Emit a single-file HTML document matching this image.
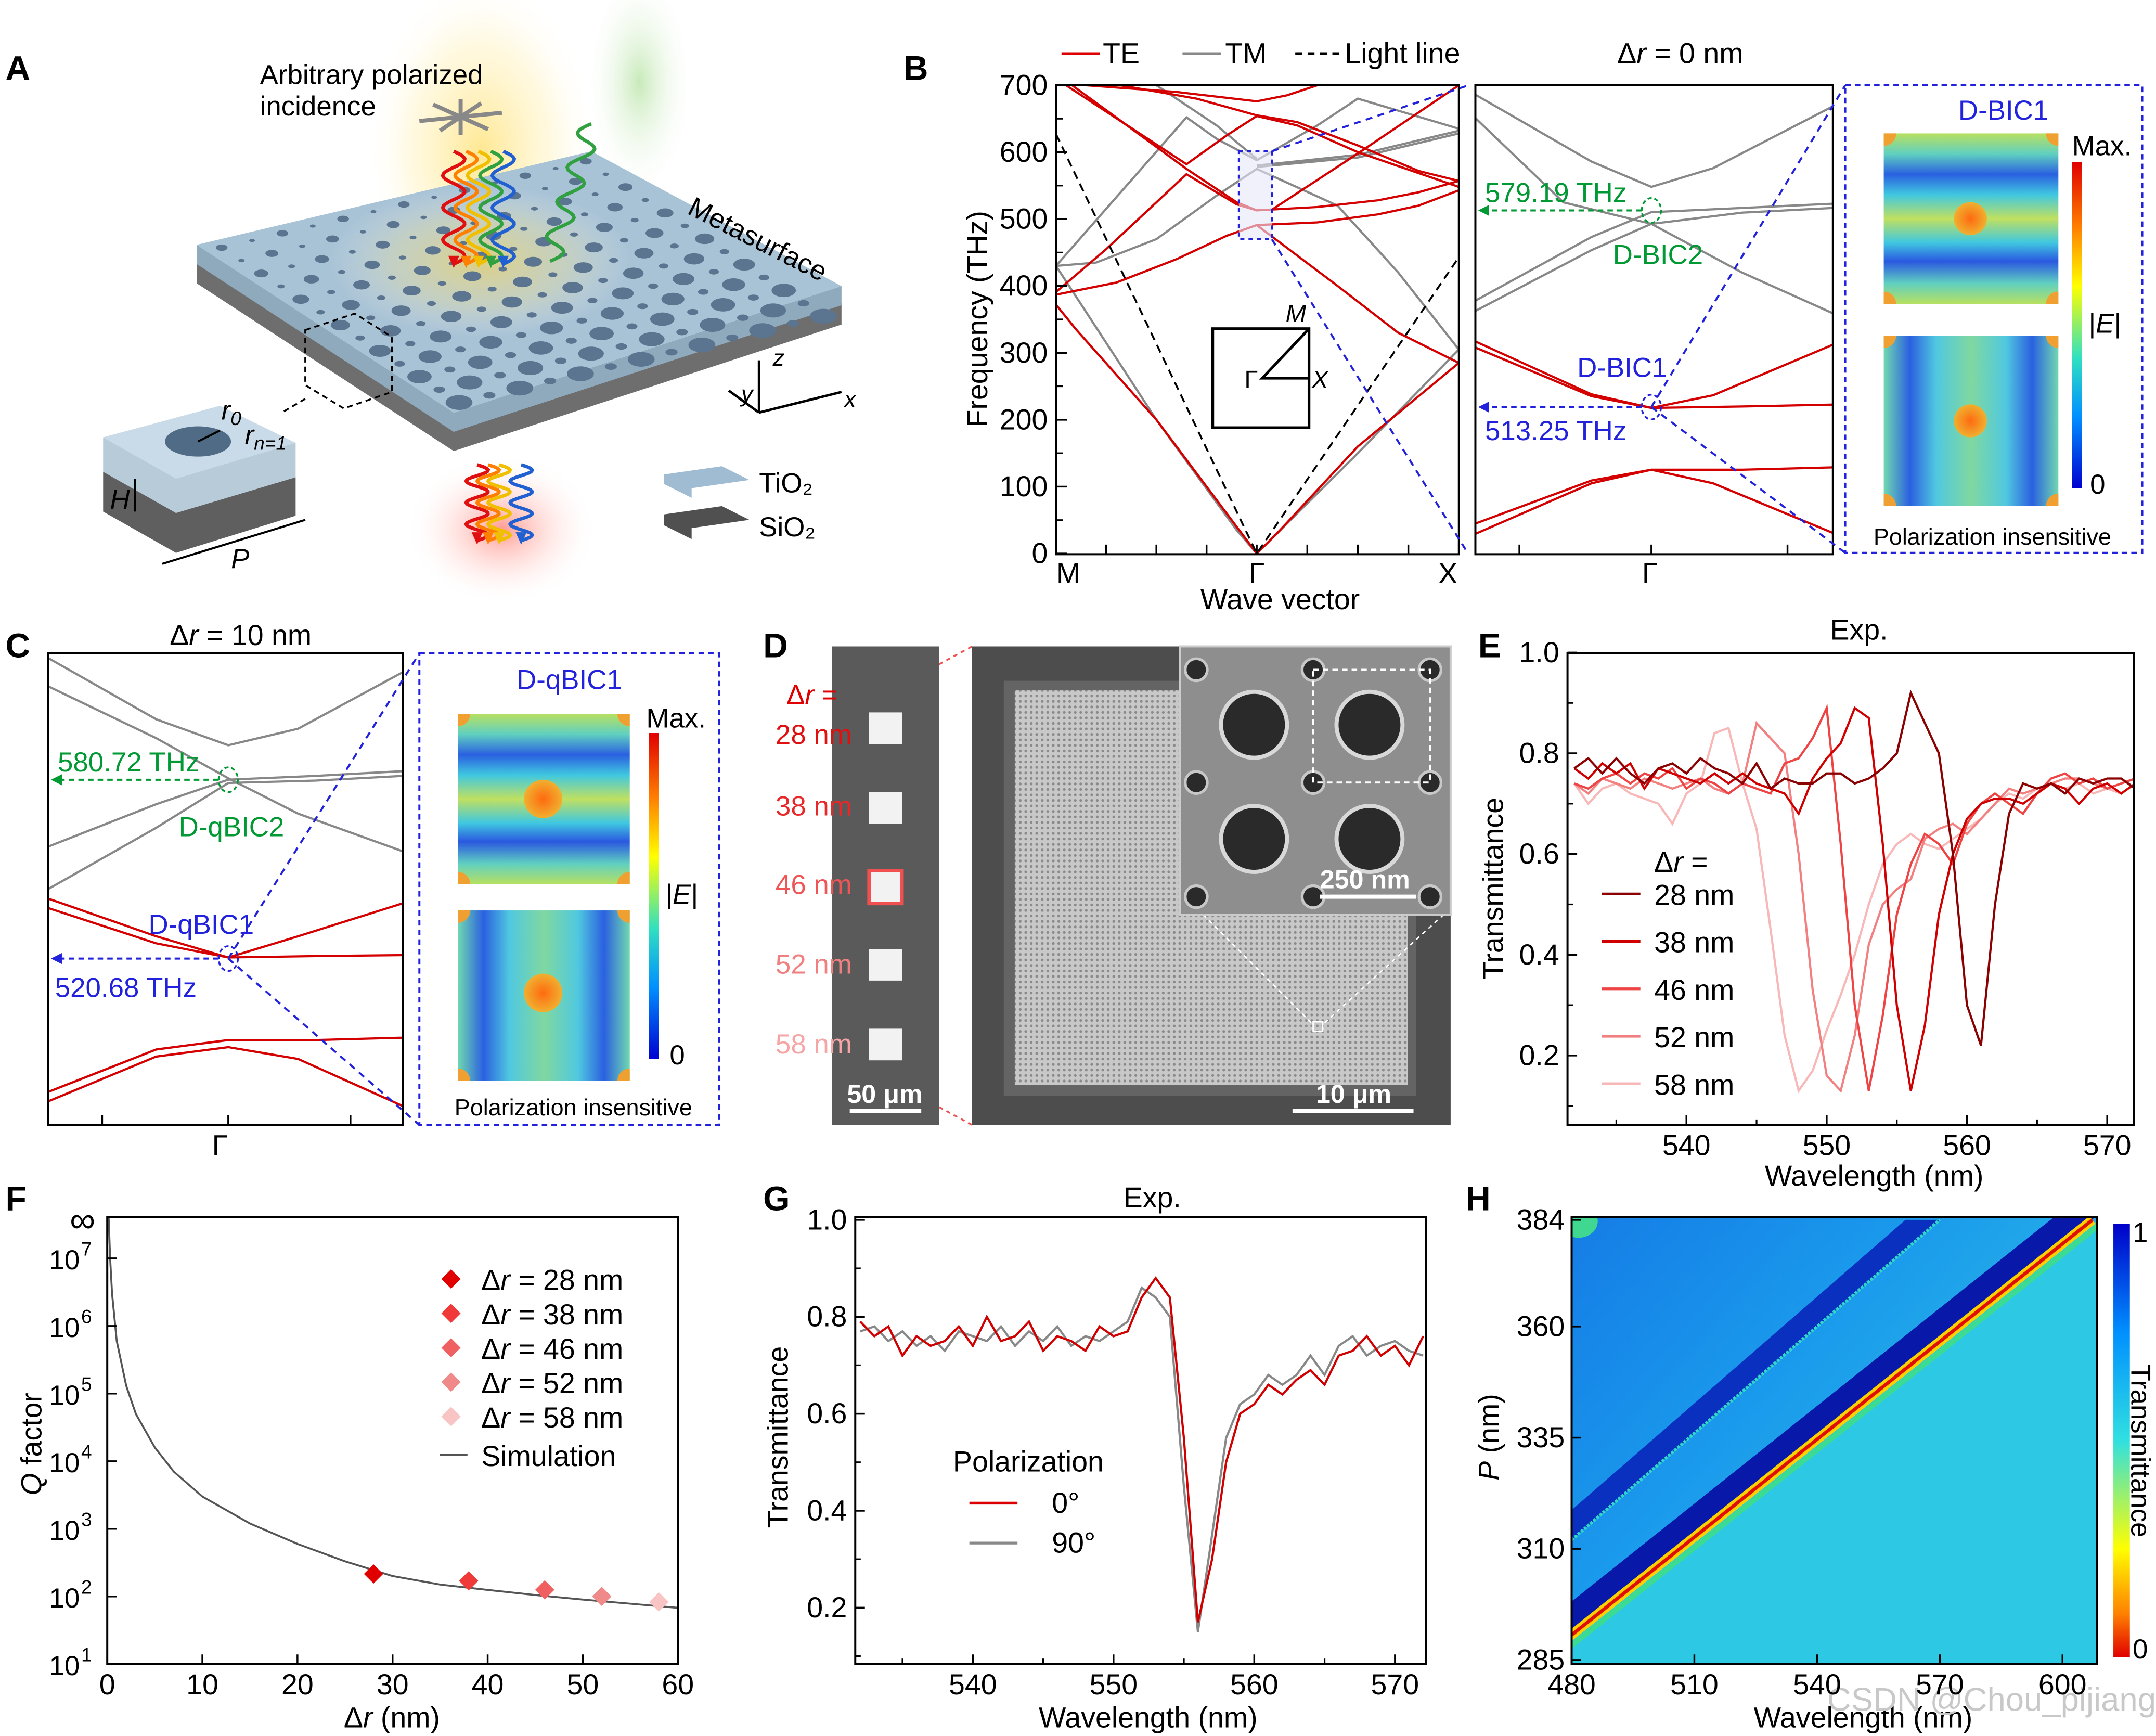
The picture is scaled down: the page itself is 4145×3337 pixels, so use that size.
<!DOCTYPE html>
<html><head><meta charset="utf-8">
<style>
html,body{margin:0;padding:0;background:#fff;overflow:hidden}
svg{display:block}
text{font-family:"Liberation Sans",Arial,sans-serif}
</style></head>
<body>
<svg id="fig" xmlns="http://www.w3.org/2000/svg" width="4145" height="3337" viewBox="0 0 1568 1262.3" preserveAspectRatio="none">
<defs>
<radialGradient id="gYellow" cx="0.5" cy="0.5" r="0.5"><stop offset="0" stop-color="#ffd84a" stop-opacity="0.6"/><stop offset="0.6" stop-color="#ffeb99" stop-opacity="0.3"/><stop offset="1" stop-color="#fff" stop-opacity="0"/></radialGradient>
<radialGradient id="gGreen" cx="0.5" cy="0.5" r="0.5"><stop offset="0" stop-color="#9ad880" stop-opacity="0.55"/><stop offset="1" stop-color="#fff" stop-opacity="0"/></radialGradient>
<radialGradient id="gRed" cx="0.5" cy="0.5" r="0.5"><stop offset="0" stop-color="#ff5a4a" stop-opacity="0.6"/><stop offset="1" stop-color="#fff" stop-opacity="0"/></radialGradient>
<linearGradient id="mapH" x1="0" y1="0" x2="0" y2="1">
<stop offset="0" stop-color="#b8e060"/><stop offset="0.12" stop-color="#60d0c0"/><stop offset="0.24" stop-color="#2a60e0"/><stop offset="0.36" stop-color="#40c8e0"/><stop offset="0.5" stop-color="#c0e060"/><stop offset="0.64" stop-color="#40c8e0"/><stop offset="0.75" stop-color="#2a58e0"/><stop offset="0.88" stop-color="#60d0c0"/><stop offset="1" stop-color="#b8e060"/></linearGradient>
<linearGradient id="mapV" x1="0" y1="0" x2="1" y2="0">
<stop offset="0" stop-color="#70d8b0"/><stop offset="0.15" stop-color="#2a60e0"/><stop offset="0.3" stop-color="#50c8e0"/><stop offset="0.5" stop-color="#80d8a0"/><stop offset="0.7" stop-color="#50c8e0"/><stop offset="0.85" stop-color="#2a60e0"/><stop offset="1" stop-color="#70d8b0"/></linearGradient>
<linearGradient id="cbar" x1="0" y1="0" x2="0" y2="1">
<stop offset="0" stop-color="#e00000"/><stop offset="0.2" stop-color="#ff8000"/><stop offset="0.38" stop-color="#ffff00"/><stop offset="0.6" stop-color="#30e0c0"/><stop offset="0.78" stop-color="#0090ff"/><stop offset="1" stop-color="#0000d0"/></linearGradient>
<linearGradient id="cbarH" x1="0" y1="0" x2="0" y2="1">
<stop offset="0" stop-color="#0000c8"/><stop offset="0.25" stop-color="#0090ff"/><stop offset="0.5" stop-color="#30e0e0"/><stop offset="0.75" stop-color="#ffff00"/><stop offset="0.9" stop-color="#ff8000"/><stop offset="1" stop-color="#e00000"/></linearGradient>
<radialGradient id="dot" cx="0.5" cy="0.5" r="0.5"><stop offset="0" stop-color="#ff6a10"/><stop offset="1" stop-color="#f0b030"/></radialGradient>
<linearGradient id="hbg" x1="0" y1="0" x2="1" y2="1"><stop offset="0" stop-color="#1060e0"/><stop offset="0.5" stop-color="#1a9aec"/><stop offset="1" stop-color="#38d4e0"/></linearGradient>
<clipPath id="clipH"><rect x="1143" y="885" width="382" height="325"/></clipPath>
<clipPath id="clipB"><rect x="768" y="62" width="293" height="341"/></clipPath>
<clipPath id="clipBR"><rect x="1073" y="62" width="260" height="341"/></clipPath>
<clipPath id="clipC"><rect x="35" y="475" width="258" height="343"/></clipPath>
<clipPath id="clipE"><rect x="1140" y="475" width="412" height="343"/></clipPath>
<clipPath id="clipG"><rect x="622" y="885" width="415" height="325"/></clipPath>
<pattern id="semdots" width="4" height="4" patternUnits="userSpaceOnUse"><rect width="4" height="4" fill="#c8c8c8"/><circle cx="2" cy="2" r="1" fill="#8a8a8a"/></pattern>
</defs>

<g font-weight="bold" font-size="25">
<text x="4" y="58">A</text>
<text x="657" y="58">B</text>
<text x="4" y="478">C</text>
<text x="555" y="478">D</text>
<text x="1075" y="478">E</text>
<text x="4" y="880">F</text>
<text x="555" y="880">G</text>
<text x="1066" y="880">H</text>
</g>

<!-- ========== Panel A illustration ========== -->
<g id="panelA">
<ellipse cx="350" cy="110" rx="85" ry="130" fill="url(#gYellow)"/>
<ellipse cx="465" cy="60" rx="40" ry="85" fill="url(#gGreen)"/>
<ellipse cx="365" cy="385" rx="70" ry="55" fill="url(#gRed)"/>
<polygon points="143,190 330,312 612,220 612,236 330,328 143,206" fill="#6e6e6e"/>
<polygon points="143,178 330,300 612,208 612,222 330,314 143,192" fill="#8fa9bd"/>
<polygon id="slabTop" points="143,178 430,110 612,208 330,300" fill="#a9c3d6"/>
<ellipse cx="350" cy="190" rx="110" ry="55" fill="url(#gYellow)"/>
<g id="holes"></g>
<text x="499" y="155" font-size="20" transform="rotate(27 499 155)">Metasurface</text>
<text x="189" y="61" font-size="20">Arbitrary polarized</text>
<text x="189" y="84" font-size="20">incidence</text>
<g stroke="#888" stroke-width="3">
<line x1="305" y1="88" x2="365" y2="82"/><line x1="315" y1="76" x2="355" y2="94"/><line x1="320" y1="95" x2="350" y2="75"/><line x1="335" y1="72" x2="335" y2="98"/>
</g>
<g id="waves" fill="none" stroke-width="2.5"></g>
<g>
<polygon points="75,343 128,373 215,347 215,375 128,402 75,372" fill="#5f5f5f"/>
<polygon points="75,318 128,348 215,322 215,347 128,373 75,343" fill="#b8cbd9"/>
<polygon points="75,318 160,295 215,322 128,348" fill="#c9dbe8"/>
<ellipse cx="144" cy="321" rx="24" ry="11" fill="#4f6b85"/>
<line x1="144" y1="321" x2="160" y2="313" stroke="#000" stroke-width="1.5"/>
<text x="161" y="305" font-size="20" font-style="italic">r<tspan font-size="14" dy="4">0</tspan></text>
<text x="178" y="323" font-size="20" font-style="italic">r<tspan font-size="14" dy="4">n=1</tspan></text>
<text x="80" y="370" font-size="20" font-style="italic">H</text>
<line x1="98" y1="348" x2="98" y2="372" stroke="#000" stroke-width="1.5"/>
<line x1="118" y1="410" x2="222" y2="378" stroke="#000" stroke-width="1.5"/>
<text x="168" y="413" font-size="20" font-style="italic">P</text>
</g>
<g fill="none" stroke="#000" stroke-dasharray="4 3" stroke-width="1.3">
<polygon points="222,240 258,228 285,245 285,285 250,297 222,280"/>
<line x1="222" y1="290" x2="205" y2="300"/>
</g>
<g stroke="#000" stroke-width="1.8" fill="none">
<line x1="552" y1="300" x2="552" y2="262"/><line x1="552" y1="300" x2="612" y2="285"/><line x1="552" y1="300" x2="530" y2="284"/>
</g>
<text x="562" y="266" font-size="17" font-style="italic">z</text>
<text x="614" y="296" font-size="17" font-style="italic">x</text>
<text x="539" y="292" font-size="17" font-style="italic">y</text>
<polygon points="483,345 525,339 545,349 503,355 503,362 483,352" fill="#9fbcd2"/>
<polygon points="483,374 525,368 545,378 503,384 503,392 483,382" fill="#505050"/>
<text x="552" y="358" font-size="20">TiO₂</text>
<text x="552" y="390" font-size="20">SiO₂</text>
</g>

<!-- ========== Panel B ========== -->
<g font-size="21">
<line x1="772" y1="39" x2="800" y2="39" stroke="#d00" stroke-width="2"/><text x="802" y="46">TE</text>
<line x1="860" y1="39" x2="888" y2="39" stroke="#888" stroke-width="2"/><text x="891" y="46">TM</text>
<line x1="942" y1="39" x2="975" y2="39" stroke="#000" stroke-width="2" stroke-dasharray="5 4"/><text x="978" y="46">Light line</text>
<text x="1222" y="46" text-anchor="middle">Δ<tspan font-style="italic">r</tspan> = 0 nm</text>
</g>
<g id="bandB"></g>
<rect x="768" y="62" width="293" height="341" fill="none" stroke="#000" stroke-width="1.5"/>
<rect x="1073" y="62" width="260" height="341" fill="none" stroke="#000" stroke-width="1.5"/>
<text x="718" y="232" font-size="21" text-anchor="middle" transform="rotate(-90 718 232)">Frequency (THz)</text>
<text x="931" y="443" font-size="21" text-anchor="middle">Wave vector</text>
<g font-size="21" text-anchor="middle">
<text x="777" y="424">M</text><text x="914" y="424">Γ</text><text x="1053" y="424">X</text><text x="1200" y="424">Γ</text></g>
<g>
<rect x="882" y="239" width="70" height="72" fill="none" stroke="#000" stroke-width="2"/>
<polyline points="952,239 918,275 952,275" fill="none" stroke="#000" stroke-width="2"/>
<text x="905" y="282" font-size="18">Γ</text><text x="954" y="282" font-size="18" font-style="italic">X</text><text x="935" y="234" font-size="18" font-style="italic">M</text>
</g>
<rect x="901" y="110" width="24" height="64" fill="#e8e8f8" fill-opacity="0.6" stroke="#22d" stroke-width="1.5" stroke-dasharray="3 3"/>
<g stroke="#22d" stroke-width="1.5" stroke-dasharray="5 4" fill="none">
<line x1="925" y1="110" x2="1068" y2="62"/><line x1="925" y1="174" x2="1068" y2="403"/>
<line x1="1201" y1="296" x2="1342" y2="62"/><line x1="1201" y1="296" x2="1342" y2="402"/>
</g>
<g>
<ellipse cx="1201" cy="153" rx="7" ry="9" fill="none" stroke="#093" stroke-width="1.3" stroke-dasharray="3 2"/>
<line x1="1194" y1="153" x2="1080" y2="153" stroke="#093" stroke-width="1.5" stroke-dasharray="4 3"/>
<polygon points="1075,153 1083,149 1083,157" fill="#093"/>
<text x="1080" y="147" font-size="20" fill="#093">579.19 THz</text>
<text x="1173" y="192" font-size="20" fill="#093">D-BIC2</text>
<ellipse cx="1201" cy="296" rx="7" ry="9" fill="none" stroke="#22d" stroke-width="1.3" stroke-dasharray="3 2"/>
<line x1="1194" y1="296" x2="1080" y2="296" stroke="#22d" stroke-width="1.5" stroke-dasharray="4 3"/>
<polygon points="1075,296 1083,292 1083,300" fill="#22d"/>
<text x="1080" y="320" font-size="20" fill="#22d">513.25 THz</text>
<text x="1147" y="274" font-size="20" fill="#22d">D-BIC1</text>
</g>
<g>
<rect x="1342" y="62" width="216" height="340" fill="none" stroke="#22d" stroke-width="1.5" stroke-dasharray="4 3"/>
<text x="1457" y="87" font-size="20" fill="#22d" text-anchor="middle">D-BIC1</text>
<rect x="1370" y="97" width="127" height="124" fill="url(#mapH)"/>
<circle cx="1433" cy="159" r="12" fill="url(#dot)"/>
<rect x="1370" y="244" width="127" height="124" fill="url(#mapV)"/>
<circle cx="1433" cy="306" r="12" fill="url(#dot)"/>
<g fill="#f0a030"><path d="M1370,97 h9 a9,9 0 0 1 -9,9z"/><path d="M1497,97 v9 a9,9 0 0 1 -9,-9z"/><path d="M1370,221 v-9 a9,9 0 0 1 9,9z"/><path d="M1497,221 h-9 a9,9 0 0 1 9,-9z"/>
<path d="M1370,244 h9 a9,9 0 0 1 -9,9z"/><path d="M1497,244 v9 a9,9 0 0 1 -9,-9z"/><path d="M1370,368 v-9 a9,9 0 0 1 9,9z"/><path d="M1497,368 h-9 a9,9 0 0 1 9,-9z"/></g>
<rect x="1507" y="118" width="7" height="237" fill="url(#cbar)"/>
<text x="1507" y="113" font-size="20">Max.</text>
<text x="1519" y="242" font-size="20">|<tspan font-style="italic">E</tspan>|</text>
<text x="1520" y="359" font-size="20">0</text>
<text x="1449" y="396" font-size="17" text-anchor="middle">Polarization insensitive</text>
</g>

<!-- ========== Panel C ========== -->
<text x="175" y="469" font-size="21" text-anchor="middle">Δ<tspan font-style="italic">r</tspan> = 10 nm</text>
<g id="bandC"></g>
<rect x="35" y="475" width="258" height="343" fill="none" stroke="#000" stroke-width="1.5"/>
<text x="160" y="840" font-size="21" text-anchor="middle">Γ</text>
<g>
<ellipse cx="166" cy="567" rx="7" ry="9" fill="none" stroke="#093" stroke-width="1.3" stroke-dasharray="3 2"/>
<line x1="159" y1="567" x2="42" y2="567" stroke="#093" stroke-width="1.5" stroke-dasharray="4 3"/>
<polygon points="37,567 45,563 45,571" fill="#093"/>
<text x="42" y="561" font-size="20" fill="#093">580.72 THz</text>
<text x="130" y="608" font-size="20" fill="#093">D-qBIC2</text>
<ellipse cx="166" cy="697" rx="7" ry="9" fill="none" stroke="#22d" stroke-width="1.3" stroke-dasharray="3 2"/>
<line x1="159" y1="697" x2="42" y2="697" stroke="#22d" stroke-width="1.5" stroke-dasharray="4 3"/>
<polygon points="37,697 45,693 45,701" fill="#22d"/>
<text x="40" y="725" font-size="20" fill="#22d">520.68 THz</text>
<text x="108" y="679" font-size="20" fill="#22d">D-qBIC1</text>
</g>
<g stroke="#22d" stroke-width="1.5" stroke-dasharray="5 4">
<line x1="166" y1="697" x2="305" y2="475"/><line x1="166" y1="697" x2="305" y2="818"/></g>
<g>
<rect x="305" y="475" width="218" height="343" fill="none" stroke="#22d" stroke-width="1.5" stroke-dasharray="4 3"/>
<text x="414" y="501" font-size="20" fill="#22d" text-anchor="middle">D-qBIC1</text>
<rect x="333" y="519" width="125" height="124" fill="url(#mapH)"/>
<circle cx="395" cy="581" r="14" fill="url(#dot)"/>
<rect x="333" y="662" width="125" height="124" fill="url(#mapV)"/>
<circle cx="395" cy="722" r="14" fill="url(#dot)"/>
<g fill="#f0a030"><path d="M333,519 h9 a9,9 0 0 1 -9,9z"/><path d="M458,519 v9 a9,9 0 0 1 -9,-9z"/><path d="M333,643 v-9 a9,9 0 0 1 9,9z"/><path d="M458,643 h-9 a9,9 0 0 1 9,-9z"/>
<path d="M333,662 h9 a9,9 0 0 1 -9,9z"/><path d="M458,662 v9 a9,9 0 0 1 -9,-9z"/><path d="M333,786 v-9 a9,9 0 0 1 9,9z"/><path d="M458,786 h-9 a9,9 0 0 1 9,-9z"/></g>
<rect x="472" y="533" width="7" height="237" fill="url(#cbar)"/>
<text x="470" y="529" font-size="20">Max.</text>
<text x="484" y="657" font-size="20">|<tspan font-style="italic">E</tspan>|</text>
<text x="487" y="774" font-size="20">0</text>
<text x="417" y="811" font-size="17" text-anchor="middle">Polarization insensitive</text>
</g>

<!-- ========== Panel D ========== -->
<g>
<rect x="605" y="470" width="78" height="348" fill="#5a5a5a"/>
<g fill="#f2f2f2">
<rect x="632" y="518" width="24" height="23"/><rect x="632" y="576" width="24" height="23"/><rect x="632" y="633" width="24" height="24" stroke="#f05050" stroke-width="2.5"/><rect x="632" y="690" width="24" height="23"/><rect x="632" y="748" width="24" height="23"/></g>
<g font-size="20">
<text x="572" y="512" fill="#e00000">Δ<tspan font-style="italic">r</tspan> =</text>
<text x="564" y="541" fill="#e01010">28 nm</text>
<text x="564" y="593" fill="#e82828">38 nm</text>
<text x="564" y="650" fill="#f05555">46 nm</text>
<text x="564" y="708" fill="#f08080">52 nm</text>
<text x="564" y="766" fill="#f5a5a5">58 nm</text></g>
<line x1="618" y1="808" x2="670" y2="808" stroke="#fff" stroke-width="3"/>
<text x="616" y="802" font-size="19" fill="#fff" font-weight="bold">50 μm</text>
<g stroke="#f05050" stroke-width="1.3" stroke-dasharray="3 3"><line x1="683" y1="483" x2="707" y2="470"/><line x1="683" y1="805" x2="707" y2="818"/></g>
<rect x="707" y="470" width="348" height="348" fill="#4d4d4d"/>
<rect x="730" y="495" width="300" height="302" fill="#6a6a6a" opacity="0.8"/>
<rect x="738" y="502" width="286" height="287" fill="url(#semdots)"/>
<rect x="955" y="743" width="7" height="7" fill="none" stroke="#fff" stroke-width="1"/>
<g stroke="#fff" stroke-width="1" stroke-dasharray="3 3"><line x1="875" y1="665" x2="955" y2="745"/><line x1="1050" y1="665" x2="962" y2="745"/></g>
<rect x="858" y="470" width="197" height="195" fill="#8e8e8e" stroke="#ccc" stroke-width="1.5"/>
<g fill="#2a2a2a" stroke="#d8d8d8" stroke-width="3">
<circle cx="912" cy="527" r="24"/><circle cx="996" cy="527" r="24"/><circle cx="912" cy="610" r="24"/><circle cx="996" cy="610" r="24"/></g>
<g fill="#2a2a2a" stroke="#c8c8c8" stroke-width="2">
<circle cx="870" cy="487" r="8"/><circle cx="955" cy="487" r="8"/><circle cx="1040" cy="487" r="8"/><circle cx="870" cy="569" r="8"/><circle cx="955" cy="569" r="8"/><circle cx="1040" cy="569" r="8"/><circle cx="870" cy="652" r="8"/><circle cx="955" cy="652" r="8"/><circle cx="1040" cy="652" r="8"/></g>
<rect x="955" y="487" width="85" height="82" fill="none" stroke="#fff" stroke-width="1.5" stroke-dasharray="4 3"/>
<line x1="960" y1="652" x2="1030" y2="652" stroke="#fff" stroke-width="3"/>
<text x="960" y="646" font-size="19" fill="#fff" font-weight="bold">250 nm</text>
<line x1="940" y1="808" x2="1028" y2="808" stroke="#fff" stroke-width="3"/>
<text x="957" y="802" font-size="19" fill="#fff" font-weight="bold">10 μm</text>
</g>

<!-- ========== Panel E ========== -->
<text x="1352" y="465" font-size="21" text-anchor="middle">Exp.</text>
<g id="chartE"></g>
<rect x="1140" y="475" width="412" height="343" fill="none" stroke="#000" stroke-width="1.5"/>
<text x="1093" y="646" font-size="21" text-anchor="middle" transform="rotate(-90 1093 646)">Transmittance</text>
<text x="1363" y="862" font-size="21" text-anchor="middle">Wavelength (nm)</text>
<text x="1203" y="634" font-size="21">Δ<tspan font-style="italic">r</tspan> =</text>

<!-- ========== Panel F ========== -->
<g id="chartF"></g>
<rect x="78" y="885" width="415" height="325" fill="none" stroke="#000" stroke-width="1.5"/>
<text x="30" y="1050" font-size="21" text-anchor="middle" transform="rotate(-90 30 1050)"><tspan font-style="italic">Q</tspan> factor</text>
<text x="285" y="1256" font-size="21" text-anchor="middle">Δ<tspan font-style="italic">r</tspan> (nm)</text>
<text x="60" y="896" font-size="26" text-anchor="middle">∞</text>

<!-- ========== Panel G ========== -->
<text x="838" y="878" font-size="21" text-anchor="middle">Exp.</text>
<g id="chartG"></g>
<rect x="622" y="885" width="415" height="325" fill="none" stroke="#000" stroke-width="1.5"/>
<text x="573" y="1045" font-size="21" text-anchor="middle" transform="rotate(-90 573 1045)">Transmittance</text>
<text x="835" y="1256" font-size="21" text-anchor="middle">Wavelength (nm)</text>
<g font-size="21">
<text x="693" y="1070">Polarization</text>
<line x1="705" y1="1093" x2="740" y2="1093" stroke="#d00" stroke-width="2"/><text x="765" y="1100">0°</text>
<line x1="705" y1="1122" x2="740" y2="1122" stroke="#888" stroke-width="2"/><text x="765" y="1129">90°</text>
</g>

<!-- ========== Panel H ========== -->
<g id="chartH" clip-path="url(#clipH)"></g>
<rect x="1143" y="885" width="382" height="325" fill="none" stroke="#000" stroke-width="1.5"/>
<text x="1090" y="1045" font-size="21" text-anchor="middle" transform="rotate(-90 1090 1045)"><tspan font-style="italic">P</tspan> (nm)</text>
<text x="1355" y="1256" font-size="21" text-anchor="middle">Wavelength (nm)</text>
<rect x="1537" y="890" width="12" height="315" fill="url(#cbarH)"/>
<text x="1551" y="903" font-size="20">1</text>
<text x="1551" y="1206" font-size="20">0</text>
<text x="1550" y="1055" font-size="20" text-anchor="middle" transform="rotate(90 1550 1055)">Transmittance</text>
<text x="1568" y="1244" font-size="24" fill="#c8c8c8" text-anchor="end">CSDN @Chou_pijiang</text>
</svg>

<script>
const NS='http://www.w3.org/2000/svg';
function mk(tag,attrs,parent){const e=document.createElementNS(NS,tag);for(const k in attrs)e.setAttribute(k,attrs[k]);parent.appendChild(e);return e;}
function tx(x,y,s,attrs,parent){const e=mk('text',Object.assign({x:x,y:y},attrs),parent);e.textContent=s;return e;}
function lin(d0,d1,r0,r1){return v=>r0+(v-d0)*(r1-r0)/(d1-d0);}

/* ---------- Panel B data ---------- */
const bandsTE=[
 [[-1,372],[-0.9,335],[-0.5,200],[-0.1,40],[0,0],[0.1,30],[0.5,160],[1,285]],
 [[-1,387],[-0.7,405],[-0.4,440],[-0.15,475],[0,491],[0.3,495],[0.6,507],[0.8,520],[1,543]],
 [[-1,391],[-0.75,455],[-0.35,567],[-0.2,540],[-0.1,522],[0,513],[0.3,518],[0.6,528],[0.8,540],[1,557]],
 [[-0.92,700],[-0.35,575],[-0.2,545],[-0.1,525],[0,513]],
 [[-0.95,700],[-0.35,582],[-0.15,625],[0,654],[0.2,640],[0.5,600],[1,548]],
 [[-0.68,700],[-0.3,680],[0,655],[0.2,645],[0.5,610],[0.8,572],[1,557]],
 [[-0.85,700],[-0.4,690],[0,676],[0.15,685],[0.3,700]],
 [[0.07,513],[0.5,598],[1,700]],
 [[0,491],[0.4,400],[0.7,330],[1,285]]
];
const bandsTM=[
 [[-1,430],[-0.5,200],[-0.1,35],[0,0],[0.5,150],[1,305]],
 [[-1,430],[-0.8,435],[-0.5,470],[-0.2,535],[0,575],[0.4,520],[0.7,420],[1,305]],
 [[-1,430],[-0.35,652],[-0.2,620],[0,588],[0.3,640],[0.5,680],[1,635]],
 [[-0.5,700],[-0.2,640],[0,590]],
 [[0,578],[0.5,592],[1,628]],
 [[0,580],[0.5,596],[1,632]]
];
const lightLine=[[-1,627],[0,0],[1,443]];
const freqTicks=[0,100,200,300,400,500,600,700];
const zoomTM=[
 [[-1,98],[-0.34,83.7],[0,78.3],[0.34,82.3],[1,95.5]],
 [[-1,93],[-0.5,75],[0,70.4],[0.5,60],[1,51.3]],
 [[-1,54],[-0.34,67.6],[0,72.9],[0.5,73.8],[1,74.7]],
 [[-1,51.8],[-0.34,64.8],[0,70.4],[0.5,72.8],[1,73.8]]
];
const zoomTE=[
 [[-1,45.3],[-0.34,34],[0,31.1],[0.34,33.8],[1,44.6]],
 [[-1,44],[-0.34,33.6],[0,31.1],[0.5,31.4],[1,31.8]],
 [[-1,6.4],[-0.34,15.6],[0,17.9],[0.5,17.9],[1,18.4]],
 [[-1,4.2],[-0.34,15],[0,17.9],[0.34,15],[1,4.4]]
];
const cTM=[
 [[-1,99],[-0.4,86],[0,80.5],[0.4,84],[1,96]],
 [[-1,93],[-0.4,82],[0,73.5],[0.4,66],[1,58]],
 [[-1,59],[-0.4,68],[0,73.2],[0.5,74],[1,75]],
 [[-1,50],[-0.4,63],[0,72.5],[0.5,73],[1,74]]
];
const cTE=[
 [[-1,48],[-0.4,40],[0,35.5],[0.4,40],[1,47]],
 [[-1,46],[-0.4,38.5],[0,35.5],[0.5,35.8],[1,36]],
 [[-1,7],[-0.4,16],[0,18],[0.5,18],[1,18.5]],
 [[-1,5],[-0.4,14.5],[0,16.5],[0.4,14],[1,4]]
];

/* ---------- Panel E data ---------- */
const lamE=[];for(let l=532;l<=572;l++)lamE.push(l);
const labelsE=['28 nm','38 nm','46 nm','52 nm','58 nm'];
const colorsE=['#8b0000','#d00000','#ee4444','#f28080','#f8b8b8'];
const tE28=[.77,.79,.76,.79,.76,.74,.77,.78,.76,.79,.77,.76,.74,.78,.73,.75,.74,.74,.76,.76,.74,.75,.77,.80,.92,.86,.80,.60,.30,.22,.50,.68,.74,.73,.74,.72,.75,.74,.75,.75,.73];
const tE38=[.77,.75,.78,.76,.78,.73,.77,.76,.75,.74,.76,.74,.76,.74,.73,.72,.68,.75,.79,.82,.89,.87,.62,.30,.13,.26,.48,.60,.67,.70,.71,.71,.70,.72,.74,.73,.70,.73,.74,.72,.74];
const tE46=[.74,.73,.75,.76,.74,.76,.75,.77,.73,.75,.74,.72,.74,.73,.72,.78,.79,.83,.89,.62,.30,.13,.28,.48,.58,.64,.62,.58,.66,.70,.72,.70,.68,.72,.75,.76,.74,.75,.73,.74,.75];
const tE52=[.74,.72,.75,.74,.73,.75,.74,.73,.74,.75,.73,.72,.74,.86,.83,.80,.60,.33,.16,.13,.24,.42,.50,.53,.55,.63,.65,.66,.64,.67,.70,.73,.72,.73,.74,.75,.75,.74,.73,.74,.75];
const tE58=[.74,.70,.73,.74,.72,.71,.70,.66,.72,.74,.84,.85,.74,.65,.45,.24,.13,.17,.25,.32,.40,.50,.58,.62,.64,.62,.61,.63,.65,.67,.70,.72,.71,.73,.74,.73,.74,.72,.73,.72,.74];
const yTicksT=[0.2,0.4,0.6,0.8,1.0];
const xTicksE=[540,550,560,570];

/* ---------- Panel F data ---------- */
const simR=[0.15,0.3,0.5,1,2,3,5,7,10,15,20,25,30,35,40,45,50,55,60];
const simQ=[1e8,1e7,3e6,6e5,1.3e5,5e4,1.6e4,7e3,3e3,1.2e3,600,330,200,150,125,105,90,78,68];
const expR=[28,38,46,52,58];
const expQ=[215,170,125,100,83];
const expColors=['#e00000','#f03a3a','#f06060','#f08a8a','#f8c4c4'];
const fXTicks=[0,10,20,30,40,50,60];
const fYExp=[1,2,3,4,5,6,7];

/* ---------- Panel G data ---------- */
const lamG=[];for(let l=532;l<=572;l++)lamG.push(l);
const tG0=[.79,.76,.78,.72,.76,.74,.75,.78,.74,.80,.75,.76,.79,.73,.76,.75,.73,.78,.76,.77,.84,.88,.84,.55,.17,.30,.50,.60,.62,.66,.64,.67,.69,.66,.72,.73,.76,.72,.74,.70,.76];
const tG90=[.77,.78,.75,.77,.74,.76,.73,.77,.76,.75,.78,.74,.77,.75,.78,.74,.76,.75,.77,.79,.86,.84,.80,.45,.15,.35,.55,.62,.64,.68,.66,.68,.72,.68,.74,.76,.72,.74,.75,.73,.72];

/* ---------- Panel H data ---------- */
const hXTicks=[480,510,540,570,600];
const hYTicks=[285,310,335,360,384];
const res1P=[285,384];const res1L=[473,608];
const res2P=[312,384];const res2L=[480,570];

/* ---------- Panel A ---------- */
(function(){
 const g=document.getElementById('holes');
 const L=[143,178],Bk=[430,110],F=[330,300];
 const N=13;
 for(let i=0;i<N;i++)for(let j=0;j<N;j++){
  const u=(i+0.5)/N,v=(j+0.5)/N;
  const x=L[0]+u*(Bk[0]-L[0])+v*(F[0]-L[0]);
  const y=L[1]+u*(Bk[1]-L[1])+v*(F[1]-L[1]);
  const big=((i+j)%2===0);
  const r=big?(4+6*v):(2+2.5*v);
  const c=mk('ellipse',{cx:x,cy:y,rx:r,ry:r*0.55,fill:'#5b7490'},g);
  
  
 }
 const w=document.getElementById('waves');
 const cols=['#e01010','#ff8000','#f0c000','#30a040','#2060d0'];
 function wave(x0,y0,y1,amp,col){
  let d='';const n=60;
  for(let k=0;k<=n;k++){const t=k/n;const y=y0+(y1-y0)*t;const x=x0+amp*Math.sin(t*Math.PI*7);d+=(k?'L':'M')+x.toFixed(1)+','+y.toFixed(1);}
  const p=mk('path',{d:d,stroke:col},w);
  
  
  const a=mk('polygon',{points:`${x0-4},${y1-6} ${x0+4},${y1-6} ${x0},${y1+3}`,fill:col},w);
  
  
 }
 cols.forEach((c,i)=>wave(330+i*9,110,192,8,c));
 cols.forEach((c,i)=>{ if(i!==3) wave(347+i*8,338,393,8,c);});
 let d='';for(let k=0;k<=60;k++){const t=k/60;const y=190-100*t;const x=400+30*t+8*Math.sin(t*Math.PI*8);d+=(k?'L':'M')+x.toFixed(1)+','+y.toFixed(1);}
 const gp=mk('path',{d:d,stroke:'#30a040'},w);
 
 
})();

/* ---------- Panel B ---------- */
(function(){
 const g=document.getElementById('bandB');
 const xB=k=>914+k*(k<0?146:147);
 const yB=lin(0,700,402.5,62);
 const cl=mk('g',{'clip-path':'url(#clipB)'},g);
 
 
 bandsTM.forEach(b=>{const p=mk('polyline',{points:b.map(q=>xB(q[0])+','+yB(q[1])).join(' '),fill:'none',stroke:'#888','stroke-width':1.6},cl);
  
  });
 bandsTE.forEach(b=>{const p=mk('polyline',{points:b.map(q=>xB(q[0])+','+yB(q[1])).join(' '),fill:'none',stroke:'#d40000','stroke-width':1.6},cl);
  
  });
 const ll=mk('polyline',{points:lightLine.map(q=>xB(q[0])+','+yB(q[1])).join(' '),fill:'none',stroke:'#000','stroke-width':1.4,'stroke-dasharray':'6 4'},cl);
 
 
 freqTicks.forEach(f=>{
  const y=yB(f);
  const t=mk('line',{x1:768,y1:y,x2:776,y2:y,stroke:'#000','stroke-width':1.3},g);
  
  
  if(f<700){const m=mk('line',{x1:768,y1:yB(f+50),x2:773,y2:yB(f+50),stroke:'#000','stroke-width':1.2},g);
  
  }
  const l=tx(762,y+7,String(f),{'font-size':21,'text-anchor':'end'},g);
  
  
 });
 [-0.75,-0.5,-0.25,0,0.25,0.5,0.75].forEach(k=>{
  const t=mk('line',{x1:xB(k),y1:403,x2:xB(k),y2:396,stroke:'#000','stroke-width':1.3},g);
  
  
 });
 const xR=k=>1201+k*(k<0?128:132);
 const yR=lin(0,100,402.5,62);
 const cr=mk('g',{'clip-path':'url(#clipBR)'},g);
 
 
 zoomTM.forEach(b=>{const p=mk('polyline',{points:b.map(q=>xR(q[0])+','+yR(q[1])).join(' '),fill:'none',stroke:'#888','stroke-width':1.6},cr);
  
  });
 zoomTE.forEach(b=>{const p=mk('polyline',{points:b.map(q=>xR(q[0])+','+yR(q[1])).join(' '),fill:'none',stroke:'#d40000','stroke-width':1.6},cr);
  
  });
 [-0.75,0,0.75].forEach(k=>{const t=mk('line',{x1:xR(k),y1:403,x2:xR(k),y2:396,stroke:'#000','stroke-width':1.3},g);
  
  });
})();

/* ---------- Panel C ---------- */
(function(){
 const g=document.getElementById('bandC');
 const xC=k=>166+k*(k<0?131:127);
 const yC=lin(0,100,818,475);
 const c=mk('g',{'clip-path':'url(#clipC)'},g);
 
 
 cTM.forEach(b=>{const p=mk('polyline',{points:b.map(q=>xC(q[0])+','+yC(q[1])).join(' '),fill:'none',stroke:'#888','stroke-width':1.6},c);
  
  });
 cTE.forEach(b=>{const p=mk('polyline',{points:b.map(q=>xC(q[0])+','+yC(q[1])).join(' '),fill:'none',stroke:'#d40000','stroke-width':1.6},c);
  
  });
 [-0.7,0,0.7].forEach(k=>{const t=mk('line',{x1:xC(k),y1:818,x2:xC(k),y2:811,stroke:'#000','stroke-width':1.3},g);
  
  });
})();

/* ---------- Panel E ---------- */
(function(){
 const g=document.getElementById('chartE');
 const xE=lin(540,570,1226.5,1532.5);
 const yE=lin(0.2,1.0,767.5,474.5);
 const c=mk('g',{'clip-path':'url(#clipE)'},g);
 
 
 const series=[tE58,tE52,tE46,tE38,tE28];
 const cols=[colorsE[4],colorsE[3],colorsE[2],colorsE[1],colorsE[0]];
 series.forEach((s,i)=>{const p=mk('polyline',{points:s.map((v,j)=>xE(lamE[j]).toFixed(1)+','+yE(v).toFixed(1)).join(' '),fill:'none',stroke:cols[i],'stroke-width':1.6},c);
  
  });
 yTicksT.forEach(v=>{
  const t=mk('line',{x1:1140,y1:yE(v),x2:1147,y2:yE(v),stroke:'#000','stroke-width':1.3},g);
  
  
  const m=mk('line',{x1:1140,y1:yE(v-0.1),x2:1144,y2:yE(v-0.1),stroke:'#000','stroke-width':1.2},g);
  
  
  const l=tx(1134,yE(v)+7,v.toFixed(1),{'font-size':21,'text-anchor':'end'},g);
  
  
 });
 xTicksE.forEach(v=>{
  const t=mk('line',{x1:xE(v),y1:818,x2:xE(v),y2:811,stroke:'#000','stroke-width':1.3},g);
  
  
  const m=mk('line',{x1:xE(v-5),y1:818,x2:xE(v-5),y2:814,stroke:'#000','stroke-width':1.2},g);
  
  
  const l=tx(xE(v),840,String(v),{'font-size':21,'text-anchor':'middle'},g);
  
  
 });
 labelsE.forEach((s,i)=>{
  const y=650+i*34.5;
  const ln=mk('line',{x1:1165,y1:y,x2:1193,y2:y,stroke:colorsE[i],'stroke-width':2},g);
  
  
  const l=tx(1203,y+8,s,{'font-size':21},g);
  
  
 });
})();

/* ---------- Panel F ---------- */
(function(){
 const g=document.getElementById('chartF');
 const xF=lin(0,60,78,493);
 const yL=lin(1,7,1210,915);
 const yF=q=>Math.max(885,yL(Math.log10(q)));
 const p=mk('polyline',{points:simR.map((r,i)=>xF(r).toFixed(1)+','+yF(simQ[i]).toFixed(1)).join(' '),fill:'none',stroke:'#555','stroke-width':1.4},g);
 
 
 expR.forEach((r,i)=>{
  const x=xF(r),y=yF(expQ[i]);
  const d=mk('polygon',{points:`${x},${y-7} ${x+7},${y} ${x},${y+7} ${x-7},${y}`,fill:expColors[i]},g);
  
  
 });
 fYExp.forEach(e=>{
  const y=yL(e);
  const t=mk('line',{x1:78,y1:y,x2:85,y2:y,stroke:'#000','stroke-width':1.3},g);
  
  
  const l=tx(58,y+8,'10',{'font-size':20,'text-anchor':'end'},g);
  
  
  const s=tx(59,y-2,String(e),{'font-size':14},g);
  
  
 });
 fXTicks.forEach(v=>{
  const t=mk('line',{x1:xF(v),y1:1210,x2:xF(v),y2:1203,stroke:'#000','stroke-width':1.3},g);
  
  
  const l=tx(xF(v),1232,String(v),{'font-size':21,'text-anchor':'middle'},g);
  
  
 });
 expR.forEach((r,i)=>{
  const y=930+i*25;
  const d=mk('polygon',{points:`328,${y-7} 335,${y} 328,${y+7} 321,${y}`,fill:expColors[i]},g);
  
  
  const l=tx(350,y+8,'',{'font-size':21},g);
  l.innerHTML='Δ<tspan font-style="italic">r</tspan> = '+r+' nm';
  
  
 });
 const sl=mk('line',{x1:320,y1:1058,x2:340,y2:1058,stroke:'#555','stroke-width':1.5},g);
 
 
 const st=tx(350,1066,'Simulation',{'font-size':21},g);
 
 
})();

/* ---------- Panel G ---------- */
(function(){
 const g=document.getElementById('chartG');
 const xG=lin(540,570,707.5,1014.5);
 const yG=lin(0.2,1.0,1169,887);
 const c=mk('g',{'clip-path':'url(#clipG)'},g);
 
 
 const p9=mk('polyline',{points:tG90.map((v,j)=>xG(lamG[j]).toFixed(1)+','+yG(v).toFixed(1)).join(' '),fill:'none',stroke:'#888','stroke-width':1.6},c);
 
 
 const p0=mk('polyline',{points:tG0.map((v,j)=>xG(lamG[j]).toFixed(1)+','+yG(v).toFixed(1)).join(' '),fill:'none',stroke:'#d00000','stroke-width':1.6},c);
 
 
 yTicksT.forEach(v=>{
  const t=mk('line',{x1:622,y1:yG(v),x2:629,y2:yG(v),stroke:'#000','stroke-width':1.3},g);
  
  
  const m=mk('line',{x1:622,y1:yG(v-0.1),x2:626,y2:yG(v-0.1),stroke:'#000','stroke-width':1.2},g);
  
  
  const l=tx(616,yG(v)+7,v.toFixed(1),{'font-size':21,'text-anchor':'end'},g);
  
  
 });
 xTicksE.forEach(v=>{
  const t=mk('line',{x1:xG(v),y1:1210,x2:xG(v),y2:1203,stroke:'#000','stroke-width':1.3},g);
  
  
  const m=mk('line',{x1:xG(v-5),y1:1210,x2:xG(v-5),y2:1206,stroke:'#000','stroke-width':1.2},g);
  
  
  const l=tx(xG(v),1232,String(v),{'font-size':21,'text-anchor':'middle'},g);
  
  
 });
})();

/* ---------- Panel H ---------- */
(function(){
 const g=document.getElementById('chartH');
 const xH=lin(480,600,1143,1500);
 const yH=lin(285,384,1207,887);
 const bg=mk('rect',{x:1143,y:885,width:382,height:325,fill:'#2cc8e4'},g);
 
 
 const ax=xH(res1L[0]),ay=yH(res1P[0]),bx=xH(res1L[1]),by=yH(res1P[1]);
 const cx=xH(res2L[0]),cy=yH(res2P[0]),dx=xH(res2L[1]),dy=yH(res2P[1]);
 const mid=mk('polygon',{points:`${ax-40},${ay+30} ${bx+40},${by-30} 1143,${by-200}`,fill:'url(#hbg)'},g);
 
 
 const dark1=mk('polygon',{points:`${ax},${ay-2} ${bx},${by-2} ${bx-30},${by-2} ${ax-30},${ay-2}`,fill:'#0818a8'},g);
 
 
 const r1=mk('line',{x1:ax-2,y1:ay,x2:bx-2,y2:by,stroke:'#ffd000','stroke-width':7},g);
 
 
 const r1c=mk('line',{x1:ax-2,y1:ay,x2:bx-2,y2:by,stroke:'#e01000','stroke-width':2.5},g);
 
 
 const g1=mk('line',{x1:ax+5,y1:ay+2,x2:bx+5,y2:by+2,stroke:'#40e080','stroke-width':4,opacity:0.8},g);
 
 
 const dark2=mk('polygon',{points:`${cx},${cy} ${dx},${dy} ${dx-25},${dy} ${cx-25},${cy}`,fill:'#0a30c0'},g);
 
 
 const r2=mk('line',{x1:cx,y1:cy,x2:dx,y2:dy,stroke:'#30d8c8','stroke-width':2.2,'stroke-dasharray':'2 1'},g);
 
 
 const blob=mk('ellipse',{cx:1148,cy:888,rx:14,ry:12,fill:'#40d890'},g);
 
 
 const root=document.getElementById('fig');
 hXTicks.forEach(v=>{
  const t=mk('line',{x1:xH(v),y1:1210,x2:xH(v),y2:1203,stroke:'#000','stroke-width':1.3},root);
  
  
  const l=tx(xH(v),1232,String(v),{'font-size':21,'text-anchor':'middle'},root);
  
  
 });
 hYTicks.forEach(v=>{
  const t=mk('line',{x1:1143,y1:yH(v),x2:1150,y2:yH(v),stroke:'#000','stroke-width':1.3},root);
  
  
  const l=tx(1138,yH(v)+7,String(v),{'font-size':21,'text-anchor':'end'},root);
  
  
 });
})();
</script>
</body></html>
